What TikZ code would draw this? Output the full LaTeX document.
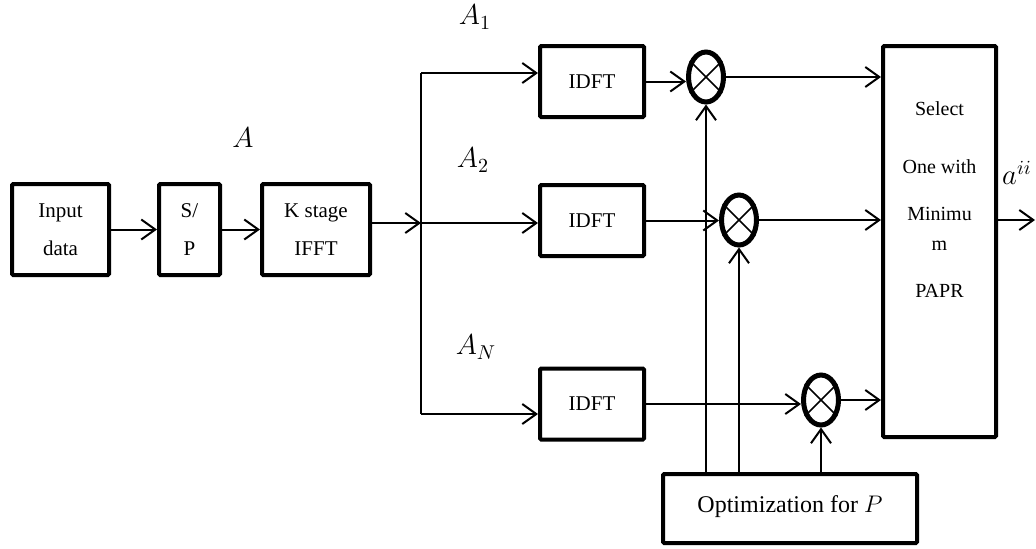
\documentclass[tikz,border=0pt]{standalone}
\usepackage{fontspec}
\setmainfont{Liberation Serif}
\usetikzlibrary{shapes.geometric, arrows.meta}
\newcommand{\bsz}{\fontsize{10.5}{19}\selectfont}
\newcommand{\msz}{\fontsize{14}{16}\selectfont}

\begin{document}
\begin{tikzpicture}[x=0.5pt, y=-0.5pt, line width=1pt,
    blk/.style = {draw, line width=2pt, rounded corners=0.6pt, align=center, inner sep=0pt, font=\bsz},
    mix/.style = {draw, ellipse, line width=2.5pt, inner sep=0pt, minimum width=17.5pt, minimum height=25pt},
    >={Straight Barb[length=7pt, width=10pt, line width=1pt]}]
      \useasboundingbox (0,0) rectangle (1036,548);
      % blocks
      \node[blk, minimum width=48.5pt, minimum height=45.5pt] (In) at (60.5,229.5) {Input\\data};
      \node[blk, minimum width=30.5pt, minimum height=45.5pt] (SP) at (189.5,229.5) {S/\\P};
      \node[blk, minimum width=54pt, minimum height=45.5pt] (IFFT) at (316,229.5) {K stage\\IFFT};
      \foreach \i\y in {I1/81.5, I2/220.5, I3/404} {
        \node[blk, minimum width=52pt, minimum height=35.5pt] (\i) at (592,\y) {IDFT};
      }
      \node[mix] (M1) at (706,77) {};
      \node[mix] (M2) at (739,220) {};
      \node[mix] (M3) at (821,400) {};
      \node[blk, minimum width=56.5pt, minimum height=195.5pt] (Sel) at (939.5,241.5) {};
      \node[align=center, anchor=north, inner sep=0pt, font=\fontsize{10}{15}\selectfont] (SelTxt) at (939.5,101)
        {Select\\[14pt]One with\\[8.5pt]Minimu\\m\\[8.5pt]PAPR};
      \node[blk, minimum width=127pt, minimum height=34.5pt, font=\fontsize{12}{14}\selectfont] (Opt) at (790,508.5)
        {Optimization for \(P\)\rule[-4pt]{0pt}{1pt}};
      % labels
      \node[font=\msz] (LA) at (243,138) {\(A\)};
      \node[font=\msz] (LA1) at (475,17) {\(A_1\)};
      \node[font=\msz] (LA2) at (473,160) {\(A_2\)};
      \node[font=\msz] (LAN) at (476,347) {\(A_N\)};
      \node[font=\msz] (La) at (1017,173) {\(a^{ii}\)};
      % trunk
      \coordinate (t1) at (421,73);
      \coordinate (t2) at (421,223);
      \coordinate (t3) at (421,414);
      \coordinate (out) at (1035,220);
      \draw (t1) -- (t3);
      \foreach \i\j in {In/SP, SP/IFFT} {
        \draw[->] (\i) -- (\j);
      }
      \draw[->] (IFFT.east |- t2) -- (t2);
      \foreach \t\j in {t1/I1, t2/I2, t3/I3} {
        \draw[->] (\t) -- (\j.west |- \t);
      }
      \foreach \i\j in {I1/M1, I2/M2, I3/M3} {
        \draw[->] (\i.east) -- (\i.east -| \j.west);
        \draw[->] (\j.east) -- (\j.east -| Sel.west);
        \draw[->] (Opt.north -| \j.south) -- (\j.south);
        \draw[line width=0.75pt] (\j.45) -- (\j.225) (\j.135) -- (\j.315);
      }
      \draw[->] (Sel.east |- out) -- (out);
    \end{tikzpicture}
\end{document}
